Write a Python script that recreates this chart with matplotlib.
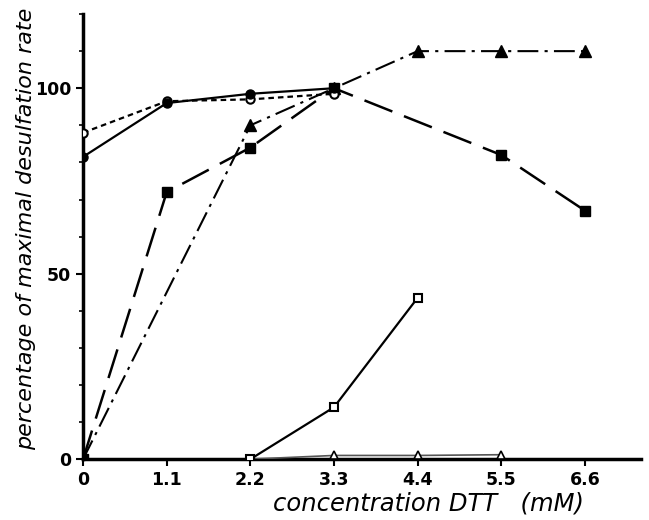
import matplotlib
matplotlib.use("Agg")
import matplotlib.pyplot as plt
from matplotlib.ticker import MultipleLocator

plt.rcParams['font.family'] = ['Liberation Sans Narrow', 'DejaVu Sans']

# concentration DTT (mM)
x_fc = [0, 1.1, 2.2, 3.3]
y_fc = [81.5, 96, 98.5, 100]          # filled circles

x_oc = [0, 1.1, 2.2, 3.3]
y_oc = [88, 96.5, 97, 98.5]           # open circles

x_fs = [0, 1.1, 2.2, 3.3, 5.5, 6.6]
y_fs = [0, 72, 84, 100, 82, 67]       # filled squares

x_ft = [0, 2.2, 3.3, 4.4, 5.5, 6.6]
y_ft = [0, 90, 100, 110, 110, 110]    # filled triangles

x_os = [2.2, 3.3, 4.4]
y_os = [0, 14, 43.5]                  # open squares

x_ot = [2.2, 3.3, 4.4, 5.5]
y_ot = [0, 1, 1, 1.2]                 # open triangles

xticks = [0, 1.1, 2.2, 3.3, 4.4, 5.5, 6.6]
xlabels = ['0', '1.1', '2.2', '3.3', '4.4', '5.5', '6.6']

fig = plt.figure(figsize=(6.49, 5.20), dpi=100)
ax = fig.add_axes([0.128, 0.117, 0.86, 0.856])

ax.plot(x_ot, y_ot, '-', color='#555555', lw=1.2, marker='^', ms=6,
        mfc='white', mec='black', mew=1.2, zorder=3)
ax.plot(x_os, y_os, '-', color='black', lw=1.6, marker='s', ms=6,
        mfc='white', mec='black', mew=1.5, zorder=4)
ax.plot(x_fs, y_fs, color='black', lw=1.8, dashes=(12, 5), marker='s', ms=7,
        mfc='black', mec='black', zorder=4)
ax.plot(x_ft, y_ft, color='black', lw=1.5, dashes=(10, 3, 1.5, 3), marker='^', ms=8,
        mfc='black', mec='black', zorder=4)
ax.plot(x_oc, y_oc, color='black', lw=1.6, dashes=(2.5, 1.8), marker='o', ms=6,
        mfc='white', mec='black', mew=1.5, zorder=5)
ax.plot(x_fc, y_fc, '-', color='black', lw=1.6, marker='o', ms=6.5,
        mfc='black', mec='black', zorder=5)

ax.set_xlim(0, 7.34)
ax.set_ylim(0, 120)
for s in ['top', 'right']:
    ax.spines[s].set_visible(False)
ax.spines['left'].set_linewidth(2.5)
ax.spines['bottom'].set_linewidth(2.5)

ax.set_xticks(xticks)
ax.set_xticklabels(xlabels)
ax.set_yticks([0, 50, 100])
ax.yaxis.set_minor_locator(MultipleLocator(10))
ax.tick_params(axis='both', which='major', length=5, width=1.5,
               labelsize=12.5, direction='out')
ax.tick_params(axis='y', which='minor', length=3, width=1.2, direction='out')
for lab in ax.get_xticklabels() + ax.get_yticklabels():
    lab.set_fontweight('bold')

fig.text(0.04, 0.56, 'percentage of maximal desulfation rate', rotation=90,
         ha='center', va='center', fontsize=16, style='italic')
fig.text(0.66, 0.032, 'concentration DTT   (mM)', ha='center', va='center',
         fontsize=17.5, style='italic')

fig.savefig('out.png', dpi=100)
